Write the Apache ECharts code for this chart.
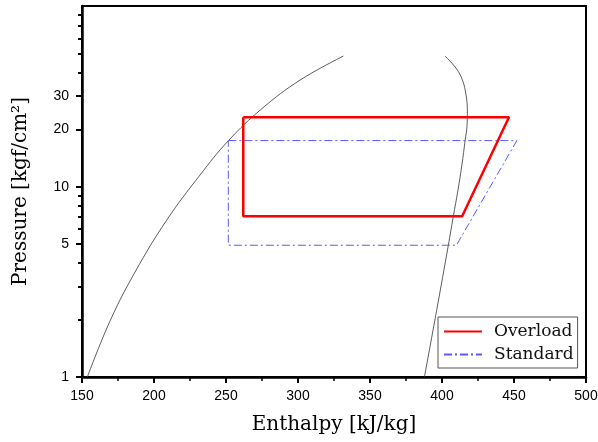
<!DOCTYPE html>
<html>
<head>
<meta charset="utf-8">
<script src="https://cdn.jsdelivr.net/npm/echarts@6/dist/echarts.min.js"></script>
<style>
html,body{margin:0;padding:0;background:#fff;}
#chart{width:598px;height:442px;}
</style>
</head>
<body>
<div id="chart"></div>
<script>
// Cycle data: enthalpy [kJ/kg] and pressure [kgf/cm2]
const overloadH = [262, 446.5, 414, 262, 262];
const overloadP = [23.2, 23.2, 7.0, 7.0, 23.2];
const standardH = [251.6, 452, 410, 251.6, 251.6];
const standardP = [17.5, 17.5, 4.93, 4.93, 17.5];
// Saturation dome
const liquidH = [153.7, 169.4, 186.8, 208.8, 231.9, 251.6, 275, 301.4, 331.5];
const liquidP = [1.0, 1.965, 3.56, 6.68, 11.52, 17.46, 25.8, 36.4, 48.7];
const vaporH = [402.1, 409.7, 414.2, 416.7, 417.6, 417.4, 416.1, 413.8, 411.1, 407.8, 404.4, 396.3, 387.8];
const vaporP = [48.7, 42.1, 36.4, 30.4, 25.3, 21.1, 17.6, 13.0, 9.61, 6.95, 4.93, 2.244, 1.0];
// Axis ticks
const yMajorTicks = [1, 5, 10, 20, 30];
const yMinorTicks = [2, 3, 4, 6, 7, 8, 9, 40, 50, 60, 70, 80];
const yMinP = 1;
const yMaxP = 89.3;
const xMin = 150, xMax = 500, xStep = 50;

const lg = v => Math.log10(v);
const pairs = (H, P) => H.map((h, i) => [h, lg(P[i])]);

const chart = echarts.init(document.getElementById('chart'), null, {renderer: 'canvas'});
const serif = 'DejaVu Serif';
const sans = 'Liberation Sans';

const yBase = {
  type: 'value',
  min: lg(yMinP),
  max: lg(yMaxP),
  position: 'left',
  splitLine: {show: false},
  axisLine: {show: true, onZero: false, lineStyle: {color: '#000', width: 2.5}}
};

chart.setOption({
  animation: false,
  backgroundColor: '#fff',
  grid: {
    left: 82, right: 12, top: 6, bottom: 65,
    show: true, borderColor: '#000', borderWidth: 2,
    containLabel: false, outerBoundsMode: 'none'
  },
  legend: {
    data: ['Overload', 'Standard'],
    orient: 'vertical',
    left: 438, top: 317,
    padding: [6, 4, 5, 5],
    itemGap: 6,
    itemWidth: 38,
    itemHeight: 14,
    borderColor: '#555',
    borderWidth: 1,
    backgroundColor: '#fff',
    itemStyle: {opacity: 0},
    textStyle: {fontFamily: serif, fontSize: 17, color: '#111', padding: [0, 0, 0, 7]}
  },
  xAxis: {
    type: 'value',
    min: xMin, max: xMax, interval: xStep,
    name: 'Enthalpy [kJ/kg]',
    nameLocation: 'middle',
    nameGap: 38,
    nameTextStyle: {fontFamily: serif, fontSize: 20, color: '#000'},
    axisLine: {show: true, onZero: false, lineStyle: {color: '#000', width: 2.5}},
    axisTick: {show: true, inside: false, length: 6, lineStyle: {color: '#000', width: 2}},
    minorTick: {show: true, splitNumber: 2, length: 4, lineStyle: {color: '#000', width: 1.5}},
    splitLine: {show: false},
    minorSplitLine: {show: false},
    axisLabel: {fontFamily: sans, fontSize: 14, color: '#000', margin: 12}
  },
  yAxis: [
    Object.assign({}, yBase, {
      name: 'Pressure [kgf/cm²]',
      nameLocation: 'middle',
      nameGap: 51,
      nameTextStyle: {fontFamily: serif, fontSize: 20, color: '#000'},
      axisTick: {show: true, inside: false, length: 6, customValues: yMajorTicks.map(lg),
                 lineStyle: {color: '#000', width: 2}},
      axisLabel: {show: true, fontFamily: sans, fontSize: 14, color: '#000', margin: 13,
                  customValues: yMajorTicks.map(lg),
                  formatter: v => String(Math.round(Math.pow(10, v)))}
    }),
    Object.assign({}, yBase, {
      axisLine: {show: false},
      axisTick: {show: true, inside: false, length: 4, customValues: yMinorTicks.map(lg),
                 lineStyle: {color: '#000', width: 2}},
      axisLabel: {show: false}
    })
  ],
  series: [
    {
      name: 'Saturated liquid', type: 'line', data: pairs(liquidH, liquidP),
      showSymbol: false, symbol: 'none', smooth: 0.4,
      lineStyle: {color: '#333', width: 0.8}, z: 2, silent: true
    },
    {
      name: 'Saturated vapor', type: 'line', data: pairs(vaporH, vaporP),
      showSymbol: false, symbol: 'none', smooth: 0.4,
      lineStyle: {color: '#333', width: 0.8}, z: 2, silent: true
    },
    {
      name: 'Standard', type: 'line', data: pairs(standardH, standardP),
      showSymbol: false, symbol: 'none',
      lineStyle: {color: '#5a5aff', width: 1, type: [8, 3, 2, 3]},
      itemStyle: {color: '#5a5aff'}, z: 3
    },
    {
      name: 'Overload', type: 'line', data: pairs(overloadH, overloadP),
      showSymbol: false, symbol: 'none',
      lineStyle: {color: '#ff0000', width: 2.5},
      itemStyle: {color: '#ff0000'}, z: 4
    }
  ]
});
</script>
</body>
</html>
